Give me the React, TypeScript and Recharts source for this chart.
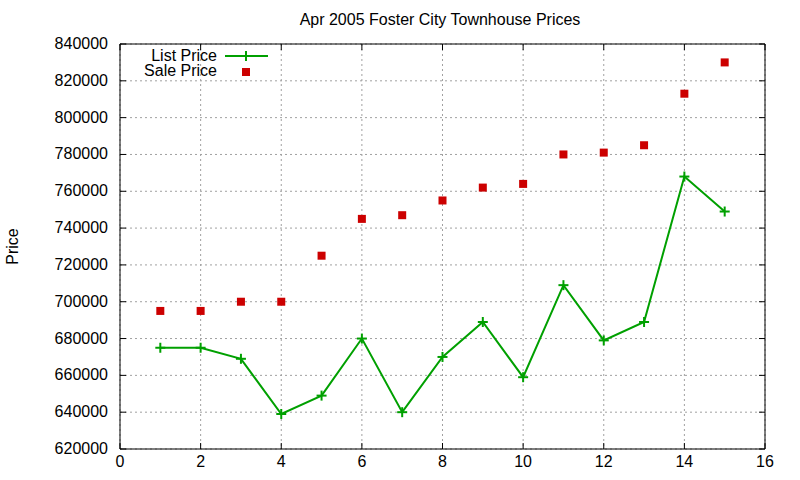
import {
  ComposedChart,
  Line,
  XAxis,
  YAxis,
  CartesianGrid,
  ReferenceLine,
} from "recharts";

const months = [1, 2, 3, 4, 5, 6, 7, 8, 9, 10, 11, 12, 13, 14, 15];
const listPrice = [
  675000, 675000, 669000, 639000, 649000, 680000, 640000, 670000, 689000,
  659000, 709000, 679000, 689000, 768000, 749000,
];
const salePrice = [
  695000, 695000, 700000, 700000, 725000, 745000, 747000, 755000, 762000,
  764000, 780000, 781000, 785000, 813000, 830000,
];
const xTicks = [0, 2, 4, 6, 8, 10, 12, 14, 16];
const yTicks = [
  620000, 640000, 660000, 680000, 700000, 720000, 740000, 760000, 780000,
  800000, 820000, 840000,
];

const GREEN = "#00a000";
const RED = "#cc0000";
const FONT = "'Liberation Sans', Arial, sans-serif";

const W = 800;
const H = 480;
const MARGIN = { top: 44, right: 35, bottom: 0, left: 0 };
const Y_AXIS_W = 120;
const X_AXIS_H = 31;
const PLOT_W = W - MARGIN.left - MARGIN.right - Y_AXIS_W;
const PLOT_H = H - MARGIN.top - MARGIN.bottom - X_AXIS_H;

const chartData = months.map((m, i) => ({
  x: m,
  list: listPrice[i],
  sale: salePrice[i],
}));

// gnuplot style "+" point
const Plus = (props: any) => {
  const { cx, cy } = props;
  if (cx == null || cy == null) return null;
  return (
    <g stroke={GREEN} strokeWidth={2}>
      <line x1={cx - 5} y1={cy} x2={cx + 5} y2={cy} />
      <line x1={cx} y1={cy - 5} x2={cx} y2={cy + 5} />
    </g>
  );
};

const Square = (props: any) => {
  const { cx, cy } = props;
  if (cx == null || cy == null) return null;
  return <rect x={cx - 4} y={cy - 4} width={8} height={8} fill={RED} />;
};

const TICK_GAP = 12;
const X_GAP = 4;
const INNER = 6;

// label plus inward tick marks on the left and the mirrored right side
const YTick = (props: any) => {
  const { x, y, payload } = props;
  const ax = x + TICK_GAP;
  return (
    <g>
      <line x1={ax} y1={y} x2={ax + INNER} y2={y} stroke="#000" />
      <line
        x1={ax + PLOT_W}
        y1={y}
        x2={ax + PLOT_W - INNER}
        y2={y}
        stroke="#000"
      />
      <text
        x={x}
        y={y}
        dy={5}
        textAnchor="end"
        fontSize={16}
        fontFamily={FONT}
        fill="#000"
      >
        {payload.value}
      </text>
    </g>
  );
};

const XTick = (props: any) => {
  const { x, y, payload } = props;
  const ay = y - X_GAP;
  return (
    <g>
      <line x1={x} y1={ay} x2={x} y2={ay - INNER} stroke="#000" />
      <line
        x1={x}
        y1={ay - PLOT_H}
        x2={x}
        y2={ay - PLOT_H + INNER}
        stroke="#000"
      />
      <text
        x={x}
        y={y}
        dy={14}
        textAnchor="middle"
        fontSize={16}
        fontFamily={FONT}
        fill="#000"
      >
        {payload.value}
      </text>
    </g>
  );
};

const KeyBox = () => (
  <svg width={170} height={40} style={{ display: "block" }}>
    <g fontFamily={FONT} fontSize={16} fill="#000">
      <text x={97} y={12} dy={5} textAnchor="end">
        List Price
      </text>
      <text x={97} y={27} dy={5} textAnchor="end">
        Sale Price
      </text>
    </g>
    <line x1={105} y1={12} x2={148} y2={12} stroke={GREEN} strokeWidth={2} />
    <Plus cx={126} cy={12} />
    <Square cx={126} cy={28} />
  </svg>
);

const PriceLabel = (props: any) => {
  const { viewBox } = props;
  const cx = viewBox.x + 12;
  const cy = viewBox.y + viewBox.height / 2;
  return (
    <text
      x={cx}
      y={cy}
      transform={`rotate(-90, ${cx}, ${cy})`}
      textAnchor="middle"
      dy={6}
      fontSize={16}
      fontFamily={FONT}
      fill="#000"
    >
      Price
    </text>
  );
};

export default function App() {
  return (
    <div
      style={{
        position: "absolute",
        left: 0,
        top: 0,
        width: W,
        height: H,
        background: "#fff",
      }}
    >
      <div
        style={{
          position: "absolute",
          left: 0,
          width: 880,
          top: 11,
          textAlign: "center",
          fontFamily: FONT,
          fontSize: 16,
          color: "#000",
        }}
      >
        Apr 2005 Foster City Townhouse Prices
      </div>
      <ComposedChart width={W} height={H} data={chartData} margin={MARGIN}>
        <CartesianGrid
          stroke="#a0a0a0"
          strokeDasharray="2 3"
          horizontalValues={yTicks}
          verticalValues={xTicks}
        />
        <XAxis
          dataKey="x"
          type="number"
          domain={[0, 16]}
          ticks={xTicks}
          height={X_AXIS_H}
          axisLine={{ stroke: "#000" }}
          tickLine={false}
          tickSize={0}
          tickMargin={X_GAP}
          tick={<XTick />}
          interval={0}
        />
        <YAxis
          type="number"
          domain={[620000, 840000]}
          ticks={yTicks}
          width={Y_AXIS_W}
          axisLine={{ stroke: "#000" }}
          tickLine={false}
          tickSize={0}
          tickMargin={TICK_GAP}
          tick={<YTick />}
          interval={0}
          label={<PriceLabel />}
        />
        {/* top and right frame */}
        <ReferenceLine y={840000} stroke="#000" strokeWidth={1} />
        <ReferenceLine x={16} stroke="#000" strokeWidth={1} />
        <Line
          dataKey="list"
          name="List Price"
          stroke={GREEN}
          strokeWidth={2}
          dot={<Plus />}
          activeDot={false}
          isAnimationActive={false}
        />
        <Line
          dataKey="sale"
          name="Sale Price"
          stroke="none"
          dot={<Square />}
          activeDot={false}
          isAnimationActive={false}
        />
      </ComposedChart>
      <div style={{ position: "absolute", left: 120, top: 44 }}>
        <KeyBox />
      </div>
    </div>
  );
}
